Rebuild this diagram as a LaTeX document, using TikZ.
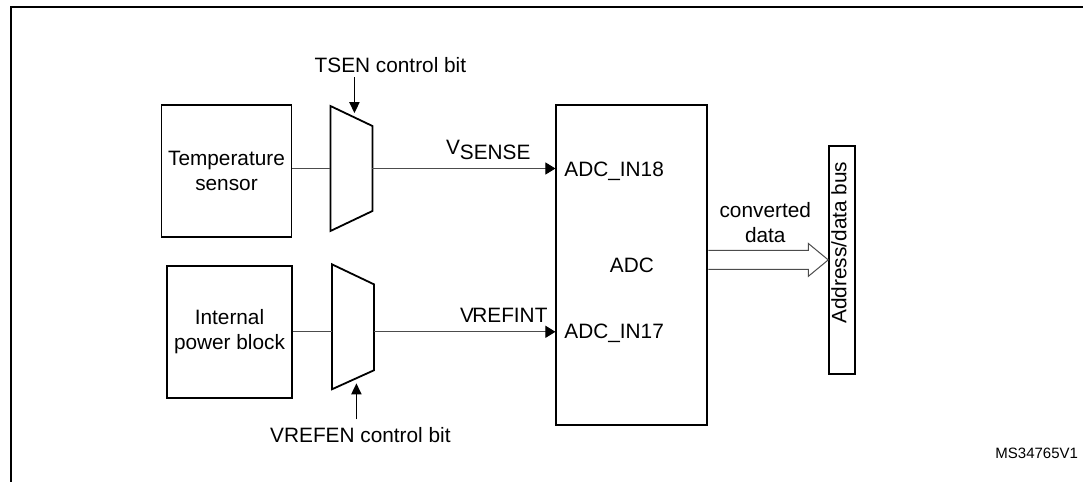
\documentclass[tikz,border=0pt]{standalone}
\usepackage{fontspec}
\setmainfont{Liberation Sans}
\usetikzlibrary{arrows.meta, positioning, calc}
\tikzstyle{block} = [rectangle, minimum width=62.5pt, minimum height=66pt,
                     align=center, draw=black, fill=white, line width=0.9pt]
\tikzstyle{muxbox} = [rectangle, minimum width=21pt, minimum height=62.5pt,
                      inner sep=0pt, outer sep=0pt]
\tikzstyle{muxline} = [draw=black, line width=0.9pt, line join=miter]
\tikzstyle{lbl} = [inner sep=0pt, outer sep=0pt]
\tikzstyle{sig} = [line width=0.5pt, draw=black!70]
\tikzstyle{sigarrow} = [sig, -{Triangle[length=5pt, width=6pt, black]}]
\tikzstyle{ctrl} = [-{Triangle[length=5.5pt, width=5pt]}, line width=0.9pt]
\tikzstyle{hollow} = [line width=0.5pt, draw=black!70, line join=miter]

\begin{document}
\begin{tikzpicture}[font=\fontsize{10.4}{12.5}\selectfont]
    \useasboundingbox (0,0) rectangle (541.5pt,-241pt);
    % Frame
    \draw[line width=1pt] (542pt,-3.5pt) -- (5.25pt,-3.5pt) -- (5.25pt,-242pt);

    % Sources
    \node[block] (temp) at (113.25pt,-85.5pt) {Temperature\\sensor};
    \node[block, below=13.5pt of temp, xshift=1.5pt] (power) {Internal\\power block};

    % Switches
    \node[muxbox, right=19pt of temp, yshift=1.25pt] (tmux) {};
    \node[muxbox, right=19.5pt of power, yshift=2.5pt] (pmux) {};
    \draw[muxline] (tmux.north west) -- ($(tmux.north east)+(0,-10pt)$)
        -- ($(tmux.south east)+(0,10pt)$) -- (tmux.south west) -- cycle;
    \draw[muxline] (pmux.north west) -- ($(pmux.north east)+(0,-10pt)$)
        -- ($(pmux.south east)+(0,9.5pt)$) -- (pmux.south west) -- cycle;

    % ADC and bus
    \node[block, minimum width=75.5pt, minimum height=160pt, anchor=north west]
        (adc) at ($(tmux.north east)+(91.5pt,1pt)$) {ADC};
    \node[block, minimum width=13pt, minimum height=114pt, right=60pt of adc,
        yshift=2.5pt] (bus) {};
    \node[lbl, rotate=90] (bustext) at ($(bus.center)+(-1.65pt,8.65pt)$) {Address/data bus};

    % Control bits
    \node[lbl] (tsen) at ($(tmux.north)+(19.5pt,20.5pt)$) {TSEN control bit};
    \node[lbl] (vrefen) at ($(pmux.south)+(3.75pt,-23pt)$) {VREFEN control bit};
    \coordinate (tsenin) at ($(tmux.north)+(1.5pt,14.5pt)$);
    \coordinate (tsenout) at ($(tmux.north)+(1.5pt,-3.6pt)$);
    \coordinate (vrefenin) at ($(pmux.south)+(1.75pt,-15pt)$);
    \coordinate (vrefenout) at ($(pmux.south)+(1.75pt,3pt)$);
    \draw[ctrl] (tsenin) -- (tsenout);
    \draw[ctrl] (vrefenin) -- (vrefenout);

    % Signal lines
    \draw[sig] (temp.east |- tmux.west) -- (tmux.west);
    \draw[sigarrow] (tmux.east) -- (tmux.east -| adc.west);
    \draw[sig] (power.east) -- (power.east -| pmux.west);
    \draw[sigarrow] (power.east -| pmux.east) -- (power.east -| adc.west);

    % Data arrow
    \coordinate (datatail) at (adc.east |- bus.west);
    \draw[hollow] ($(datatail)+(0,4.75pt)$) -- ($(bus.west)+(-10pt,4.75pt)$)
        -- ($(bus.west)+(-10pt,8.25pt)$) -- (bus.west)
        -- ($(bus.west)+(-10pt,-8.25pt)$) -- ($(bus.west)+(-10pt,-4.75pt)$)
        -- ($(datatail)+(0,-4.75pt)$);

    % Labels
    \node[lbl, anchor=base east] (vsense) at ($(adc.west |- tmux)+(-12.5pt,6.85pt)$)
        {V\raisebox{-2.5pt}{SENSE}};
    \node[lbl, anchor=base east] (vrefint) at ($(adc.west |- power)+(-4pt,4.5pt)$)
        {V\kern-0.8pt REFINT};
    \node[lbl, anchor=base west] (in18) at ($(adc.west |- tmux)+(4.5pt,-3.75pt)$) {ADC\_IN18};
    \node[lbl, anchor=base west] (in17) at ($(adc.west |- power)+(4.5pt,-3.5pt)$) {ADC\_IN17};
    \node[lbl, align=center] (conv) at ($(datatail)!0.5!(bus.west)+(-1.5pt,18.5pt)$)
        {converted\\data};
    \node[lbl, anchor=east, font=\fontsize{7.5}{9}\selectfont] (msid) at (539pt,-226.5pt)
        {MS34765V1};
\end{tikzpicture}
\end{document}
